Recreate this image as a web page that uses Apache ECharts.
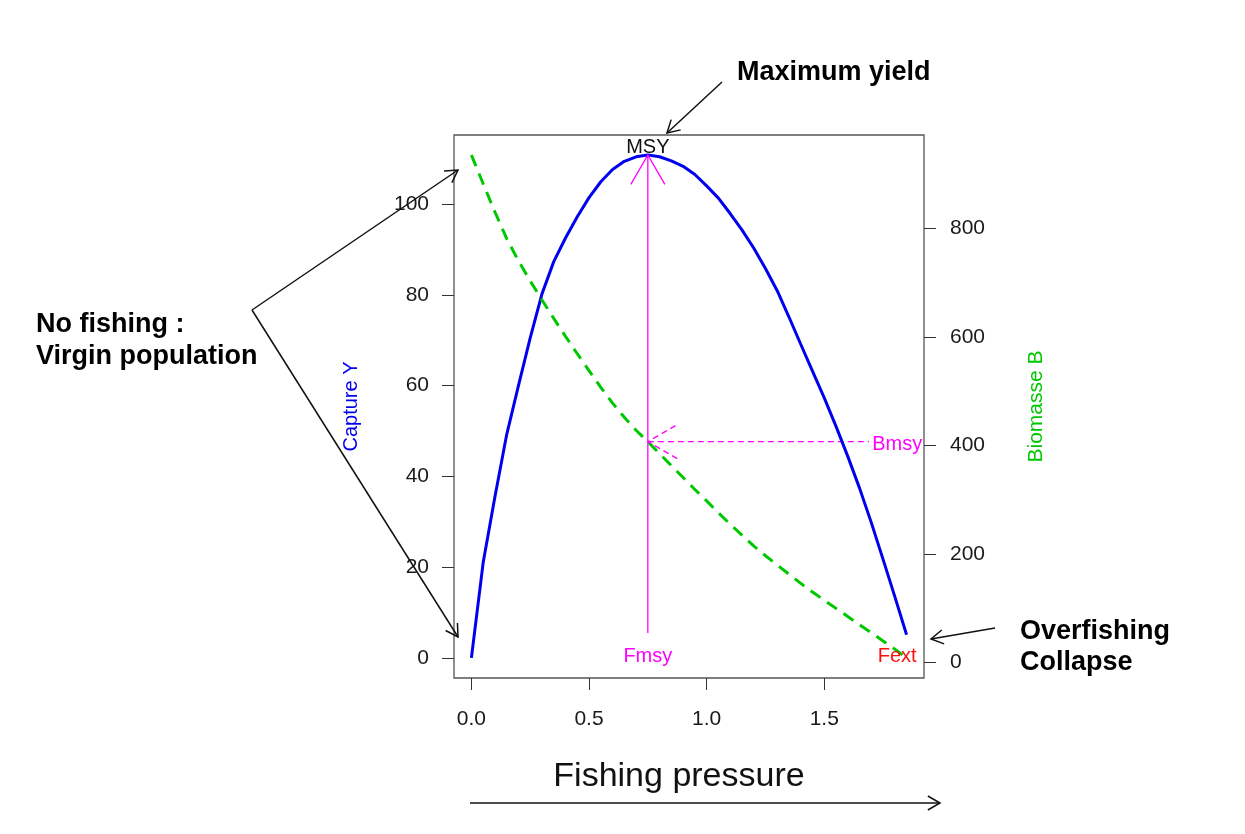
<!DOCTYPE html>
<html><head><meta charset="utf-8">
<script src="https://cdn.jsdelivr.net/npm/echarts@6/dist/echarts.min.js"></script>
<style>html,body{margin:0;padding:0;background:#fff}#c{width:1245px;height:834px}</style>
</head><body><div id="c"></div>
<script>
// ---- data ----
const fishingF = [0,0.05,0.1,0.15,0.2,0.25,0.3,0.35,0.4,0.45,0.5,0.55,0.6,0.65,0.7,0.75,0.8,0.85,0.9,0.95,1.0,1.05,1.1,1.15,1.2,1.25,1.3,1.35,1.4,1.45,1.5,1.55,1.6,1.65,1.7,1.75,1.8,1.85];
const captureY = [0,21,35.5,49.2,60,70.5,80.2,87.3,92.5,97.2,101.4,104.9,107.6,109.4,110.4,110.8,110.4,109.5,108.3,106.5,104.0,101.3,97.9,94.3,90.3,85.8,80.9,75.1,69.1,63.2,57.3,51.0,44.4,37.4,29.8,21.7,13.5,5.1];
const biomasseB = [935,882,830,781,740,703,668,634,601,569,538,507,478,452,428,407,385,363,341,319,298,276,255,235,215,197,180,163,146,130,115,100,85,70,55,40,25,8.8];
const xTicks = [0,0.5,1,1.5];
const yTicks = [0,20,40,60,80,100];
const bTicks = [0,200,400,600,800];
const Fmsy = 0.75, MSY = 110.8, Bmsy = 407, FmsyBase = 5.5, BmsyArrowEnd = 1.69, FextLabelX = 1.81;

(function(){
const yieldData = fishingF.map((f,i)=>[f,captureY[i]]);
const biomData = fishingF.map((f,i)=>[f,biomasseB[i]]);

const MAG = '#ff00ff', BLUE = '#0000ee', GREEN = '#00c800';
const FONT = '"Liberation Sans", Arial, Helvetica, sans-serif';

const chart = echarts.init(document.getElementById('c'), null, {renderer:'canvas'});
const tickStyle = {show:true, length:12, inside:false, lineStyle:{color:'#333', width:1}};
const noLine = {show:false, onZero:false};
chart.setOption({
  animation:false,
  backgroundColor:'#fff',
  grid:{left:454, top:135, width:470, height:543, show:true, borderColor:'#555', borderWidth:1.3, containLabel:false, outerBoundsMode:'none'},
  xAxis:{type:'value', min:-0.074, max:1.924, axisLine:noLine, splitLine:{show:false},
    axisTick:Object.assign({customValues:xTicks}, tickStyle),
    axisLabel:{customValues:xTicks, formatter:v=>v.toFixed(1), fontSize:21, color:'#1a1a1a', margin:31, fontFamily:FONT}},
  yAxis:[
    {type:'value', position:'left', min:-4.43, max:115.2, axisLine:noLine, splitLine:{show:false},
     axisTick:Object.assign({customValues:yTicks}, tickStyle),
     axisLabel:{customValues:yTicks, fontSize:21, color:'#1a1a1a', margin:25, fontFamily:FONT},
     name:'Capture Y', nameLocation:'middle', nameRotate:90, nameGap:93,
     nameTextStyle:{color:BLUE, fontSize:20, fontFamily:FONT}},
    {type:'value', position:'right', min:-28.2, max:971.8, axisLine:noLine, splitLine:{show:false},
     axisTick:Object.assign({customValues:bTicks}, tickStyle),
     axisLabel:{customValues:bTicks, fontSize:21, color:'#1a1a1a', margin:26, fontFamily:FONT},
     name:'Biomasse B', nameLocation:'middle', nameRotate:90, nameGap:102,
     nameTextStyle:{color:GREEN, fontSize:21, fontFamily:FONT}}
  ],
  series:[
    {name:'Capture', type:'line', data:yieldData, showSymbol:false, symbol:'none', lineStyle:{color:BLUE, width:3}, z:3},
    {name:'Biomasse', type:'line', yAxisIndex:1, data:biomData, showSymbol:false, symbol:'none', lineStyle:{color:GREEN, width:3, type:[12,8]}, z:3},
    {name:'Fmsy', type:'line', data:[[Fmsy,FmsyBase],[Fmsy,MSY]], symbol:'none', lineStyle:{color:MAG, width:1.3}, z:2},
    {name:'Bmsy', type:'line', yAxisIndex:1, data:[[Fmsy,Bmsy],[BmsyArrowEnd,Bmsy]], symbol:'none', lineStyle:{color:MAG, width:1.3, type:[6,4]}, z:2}
  ]
});

function head(tip, from, len, ang){
  const a = Math.atan2(from[1]-tip[1], from[0]-tip[0]);
  const t = ang*Math.PI/180;
  return [[tip[0]+len*Math.cos(a+t), tip[1]+len*Math.sin(a+t)], tip, [tip[0]+len*Math.cos(a-t), tip[1]+len*Math.sin(a-t)]];
}
function arrow(from, tip, color, w, len, dash){
  const st = {stroke:color, lineWidth:w, fill:null};
  if (dash) st.lineDash = dash;
  return [
    {type:'polyline', shape:{points:[from, tip]}, style:Object.assign({}, st), z:10},
    {type:'polyline', shape:{points:head(tip, from, len, 30)}, style:Object.assign({}, st), z:10}
  ];
}
function txt(s, x, y, size, color, bold, align){
  return {type:'text', z:11, style:{text:s, x:x, y:y, font:(bold?'bold ':'')+size+'px '+FONT, fill:color,
    align:align||'left', textAlign:align||'left', verticalAlign:'middle', textVerticalAlign:'middle'}};
}

const pY = p=>chart.convertToPixel({xAxisIndex:0, yAxisIndex:0}, p);
const pB = p=>chart.convertToPixel({xAxisIndex:0, yAxisIndex:1}, p);
const peak = pY([Fmsy, MSY]);
const bot = pY([Fmsy, FmsyBase]);
const bm = pB([Fmsy, Bmsy]);
const bmEnd = pB([BmsyArrowEnd, Bmsy]);
const fmsyLab = pY([Fmsy, 0]);
const fextLab = pY([FextLabelX, 0]);
const bmsyLab = pB([FextLabelX, Bmsy]);

let g = [];
g.push({type:'polyline', shape:{points:head(peak, bot, 34, 30)}, style:{stroke:MAG, lineWidth:1.3, fill:null}, z:10});
g.push({type:'polyline', shape:{points:head(bm, bmEnd, 34, 30)}, style:{stroke:MAG, lineWidth:1.3, fill:null, lineDash:[6,4]}, z:10});
g.push(txt('MSY', peak[0], peak[1]-7, 20, '#111', false, 'center'));
g.push(txt('Fmsy', fmsyLab[0], fmsyLab[1]-1, 20, MAG, false, 'center'));
g.push(txt('Fext', fextLab[0], fextLab[1]-1, 20, '#ff1010', false, 'center'));
g.push(txt('Bmsy', bmsyLab[0], bmsyLab[1]+3, 20, MAG, false, 'center'));
g = g.concat(arrow([252,310],[458,170],'#111',1.5,14));
g = g.concat(arrow([252,310],[458,637],'#111',1.5,14));
g = g.concat(arrow([722,82],[667,133],'#111',1.5,14));
g = g.concat(arrow([995,628],[931,639],'#111',1.5,14));
g = g.concat(arrow([470,803],[940,803],'#111',1.5,14));
g.push(txt('No fishing :', 36, 325, 27, '#000', true));
g.push(txt('Virgin population', 36, 357, 27, '#000', true));
g.push(txt('Maximum yield', 737, 73, 27, '#000', true));
g.push(txt('Overfishing', 1020, 632, 27, '#000', true));
g.push(txt('Collapse', 1020, 663, 27, '#000', true));
g.push(txt('Fishing pressure', 679, 777, 34, '#111', false, 'center'));
chart.setOption({graphic:g});
})();
</script></body></html>
